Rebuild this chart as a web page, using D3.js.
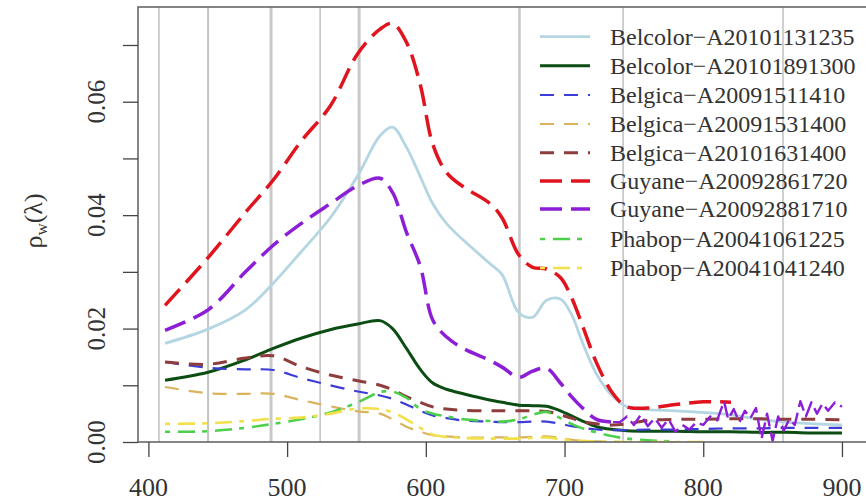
<!DOCTYPE html>
<html><head><meta charset="utf-8">
<script src="https://cdn.jsdelivr.net/npm/d3@7/dist/d3.min.js"></script>
<style>
html,body{margin:0;padding:0;background:#fff;}
svg{display:block;}
</style></head>
<body>
<svg id="chart" width="866" height="502"></svg>
<script>
// ---------- data ----------
const wavelengths = [412,443,470,490,510,531,551,567,576,586,596,605,615,627,646,655,667,677,687,697,705,713,723,735,745,760,780,800,820,840,860,880,900];

const belcolor1235 = [0.0174,0.0199,0.0233,0.0280,0.0335,0.0395,0.0470,0.0540,0.0555,0.0520,0.0468,0.0420,0.0385,0.0356,0.0315,0.0295,0.0228,0.0220,0.0250,0.0252,0.0225,0.0175,0.0120,0.0080,0.0062,0.0057,0.0055,0.0052,0.0048,0.0040,0.0035,0.0032,0.0030];
const belcolor1300 = [0.0109,0.0123,0.0145,0.0165,0.0183,0.0198,0.0208,0.0214,0.0200,0.0165,0.0128,0.0104,0.0093,0.0085,0.0074,0.0070,0.0065,0.0064,0.0063,0.0055,0.0046,0.0037,0.0027,0.0022,0.0020,0.0019,0.0019,0.0018,0.0018,0.0017,0.0017,0.0016,0.0016];
const belgica1410 = [0.0141,0.0131,0.0128,0.0127,0.0113,0.0100,0.0089,0.0082,0.0076,0.0066,0.0055,0.0047,0.0042,0.0038,0.0036,0.0035,0.0035,0.0036,0.0036,0.0032,0.0028,0.0025,0.0022,0.0021,0.0021,0.0022,0.0022,0.0023,0.0024,0.0024,0.0025,0.0025,0.0025];
const belgica1531 = [0.0097,0.0086,0.0085,0.0085,0.0074,0.0063,0.0054,0.0050,0.0040,0.0027,0.0018,0.0012,0.0010,0.0008,0.0008,0.0008,0.0008,0.0009,0.0010,0.0007,0.0004,0.0002,0.0001,0.0000,0.0000,0.0000,0.0000,0.0000,null,null,null,null,null];
const belgica1631 = [0.0141,0.0137,0.0148,0.0152,0.0133,0.0118,0.0108,0.0100,0.0092,0.0080,0.0070,0.0062,0.0058,0.0056,0.0055,0.0055,0.0055,0.0055,0.0054,0.0048,0.0042,0.0036,0.0032,0.0030,0.0032,0.0038,0.0040,0.0040,0.0041,0.0041,0.0040,0.0040,0.0039];
const guyane2861 = [0.0241,0.0325,0.0405,0.0462,0.0530,0.0592,0.0685,0.0728,0.0738,0.0705,0.0630,0.0525,0.0475,0.0450,0.0421,0.0395,0.0330,0.0308,0.0305,0.0290,0.0255,0.0205,0.0140,0.0085,0.0062,0.0060,0.0066,0.0071,0.0070,null,null,null,null];
const guyane2881 = [0.0197,0.0233,0.0300,0.0347,0.0385,0.0420,0.0452,0.0465,0.0440,0.0370,0.0310,0.0215,0.0185,0.0165,0.0144,0.0132,0.0114,0.0125,0.0130,0.0104,0.0080,0.0060,0.0040,0.0035,null,null,null,null,null,null,null,null,null];
const phabop1061 = [0.0018,0.0019,0.0025,0.0032,0.0040,0.0052,0.0070,0.0088,0.0089,0.0078,0.0058,0.0050,0.0045,0.0040,0.0037,0.0036,0.0040,0.0048,0.0053,0.0042,0.0032,0.0024,0.0017,0.0010,0.0006,0.0003,0.0001,null,null,null,null,null,null];
const phabop1041 = [0.0032,0.0033,0.0037,0.0041,0.0043,0.0050,0.0059,0.0058,0.0052,0.0040,0.0025,0.0013,0.0009,0.0007,0.0006,0.0006,0.0006,0.0007,0.0008,0.0005,0.0003,0.0002,0.0001,0.0001,0.0000,0.0000,0.0000,0.0000,null,null,null,null,null];

// noisy near-infrared tail of Guyane-A20092881710
const guyane2881TailWl = [740,745,750,755,760,765,770,775,780,785,790,795,800,805,810,815,818,822,826,830,834,838,842,846,850,854,858,862,866,870,874,878,882,886,890,895,900];
const guyane2881TailVal = [0.0035,0.0045,0.0030,0.0048,0.0028,0.0042,0.0025,0.0040,0.0018,0.0030,0.0022,0.0035,0.0030,0.0045,0.0038,0.0072,0.0040,0.0058,0.0035,0.0055,0.0042,0.0060,0.0005,0.0050,0.0002,0.0045,0.0020,0.0040,0.0030,0.0072,0.0045,0.0070,0.0050,0.0068,0.0055,0.0070,0.0062];

const seriesNames = ["Belcolor\u2212A20101131235","Belcolor\u2212A20101891300","Belgica\u2212A20091511410","Belgica\u2212A20091531400","Belgica\u2212A20101631400","Guyane\u2212A20092861720","Guyane\u2212A20092881710","Phabop\u2212A20041061225","Phabop\u2212A20041041240"];
const seriesValues = [belcolor1235,belcolor1300,belgica1410,belgica1531,belgica1631,guyane2861,guyane2881,phabop1061,phabop1041];

const bandWavelengths = [407.6,443.0,488.4,523.8,551.9,667.5,742.2,857.5];
const xTicks = [400,500,600,700,800,900];
const yTicks = [0,0.01,0.02,0.03,0.04,0.05,0.06,0.07];
const yLabels = [0,0.02,0.04,0.06];

// ---------- styles ----------
const seriesStyle = [
  {color:"#b4d6e2", width:2.8, dash:null},
  {color:"#0b4d12", width:3,   dash:null},
  {color:"#3c3cd6", width:2.2, dash:"14,10"},
  {color:"#d9b45c", width:2.2, dash:"14,10"},
  {color:"#8e3c3c", width:3,   dash:"14,10"},
  {color:"#e0141e", width:3.5, dash:"22,9"},
  {color:"#8c1fd6", width:3.5, dash:"22,9"},
  {color:"#4cd04c", width:2.6, dash:"5,8,17,7"},
  {color:"#f2e04a", width:2.6, dash:"5,8,17,7"}
];
const bandStyle = [
  {w:1.2,c:"#b0b0b0"},{w:2,c:"#c4c4c4"},{w:3,c:"#c8c8c8"},{w:1.2,c:"#b0b0b0"},
  {w:3,c:"#c8c8c8"},{w:2.6,c:"#c8c8c8"},{w:1.2,c:"#b0b0b0"},{w:1.2,c:"#b0b0b0"}
];
const FONT = "Liberation Serif";

// ---------- layout ----------
const box = {l:138, t:7, r:869, b:442};
const x = d3.scaleLinear().domain([392.5, 919.5]).range([box.l, box.r]);
const y = d3.scaleLinear().domain([0, 0.0767]).range([box.b, box.t]);

const svg = d3.select("#chart");

svg.append("defs").append("clipPath").attr("id","clip")
  .append("rect").attr("x",box.l).attr("y",box.t).attr("width",box.r-box.l).attr("height",box.b-box.t);

// vertical band lines
svg.append("g").selectAll("line").data(bandWavelengths).join("line")
  .attr("x1",d=>x(d)).attr("x2",d=>x(d)).attr("y1",box.t).attr("y2",box.b)
  .attr("stroke",(d,i)=>bandStyle[i].c).attr("stroke-width",(d,i)=>bandStyle[i].w);

// series
const line = d3.line().x(d=>x(d[0])).y(d=>y(d[1])).curve(d3.curveCatmullRom.alpha(0.5));
const lineRaw = d3.line().x(d=>x(d[0])).y(d=>y(d[1]));
const gLines = svg.append("g").attr("clip-path","url(#clip)");
seriesValues.forEach((vals,i)=>{
  const pts = wavelengths.map((w,j)=>[w,vals[j]]).filter(p=>p[1]!==null);
  const st = seriesStyle[i];
  const p = gLines.append("path").attr("d",line(pts)).attr("fill","none")
    .attr("stroke",st.color).attr("stroke-width",st.width).attr("stroke-linecap","butt").attr("stroke-linejoin","round");
  if(st.dash) p.attr("stroke-dasharray",st.dash);
  if(i===6){
    const tail = [[735,vals[23]]].concat(guyane2881TailWl.map((w,j)=>[w,guyane2881TailVal[j]]));
    gLines.append("path").attr("d",lineRaw(tail)).attr("fill","none")
      .attr("stroke",st.color).attr("stroke-width",2.4).attr("stroke-dasharray","16,6").attr("stroke-linejoin","round");
  }
});

// box
svg.append("rect").attr("x",box.l).attr("y",box.t).attr("width",box.r-box.l).attr("height",box.b-box.t)
  .attr("fill","none").attr("stroke","#666").attr("stroke-width",1.6);

// axes
const xAxis = d3.axisBottom(x).tickValues(xTicks).tickSize(15).tickFormat("");
const gx = svg.append("g").attr("transform",`translate(0,${box.b})`).call(xAxis);
gx.select(".domain").remove();
gx.selectAll(".tick line").attr("stroke","#444").attr("stroke-width",1.3);
svg.append("g").selectAll("text").data(xTicks).join("text")
  .attr("x",d=>x(d)).attr("y",496).attr("text-anchor","middle").attr("font-family",FONT)
  .attr("font-size",26).attr("fill","#333").text(d=>d);

const yAxis = d3.axisLeft(y).tickValues(yTicks).tickSize(15).tickFormat("");
const gy = svg.append("g").attr("transform",`translate(${box.l},0)`).call(yAxis);
gy.select(".domain").remove();
gy.selectAll(".tick line").attr("stroke","#444").attr("stroke-width",1.3);
svg.append("g").selectAll("text").data(yLabels).join("text")
  .attr("transform",d=>`translate(105,${y(d)}) rotate(-90)`).attr("text-anchor","middle").attr("font-family",FONT)
  .attr("font-size",25).attr("fill","#333").text(d=>d3.format(".2f")(d));

// y label
const yl = svg.append("text").attr("transform","translate(42,221) rotate(-90)").attr("text-anchor","middle")
  .attr("font-family",FONT).attr("font-size",26).attr("fill","#333");
yl.append("tspan").text("\u03c1");
yl.append("tspan").attr("font-size",17).attr("dy",5).text("w");
yl.append("tspan").attr("dy",-5).text("(\u03bb)");

// legend
const legendY = [36.7,65.7,95,124,152.7,181,209,239,268];
const lg = svg.append("g");
seriesNames.forEach((name,i)=>{
  const st = seriesStyle[i];
  const ly = legendY[i];
  const l = lg.append("line").attr("x1",540).attr("x2",590).attr("y1",ly).attr("y2",ly)
    .attr("stroke",st.color).attr("stroke-width",st.width);
  if(st.dash) l.attr("stroke-dasharray",st.dash);
  lg.append("text").attr("x",610).attr("y",ly).attr("dy","0.35em").attr("font-family",FONT)
    .attr("font-size",24).attr("fill","#333").text(name);
});
</script>
</body></html>
